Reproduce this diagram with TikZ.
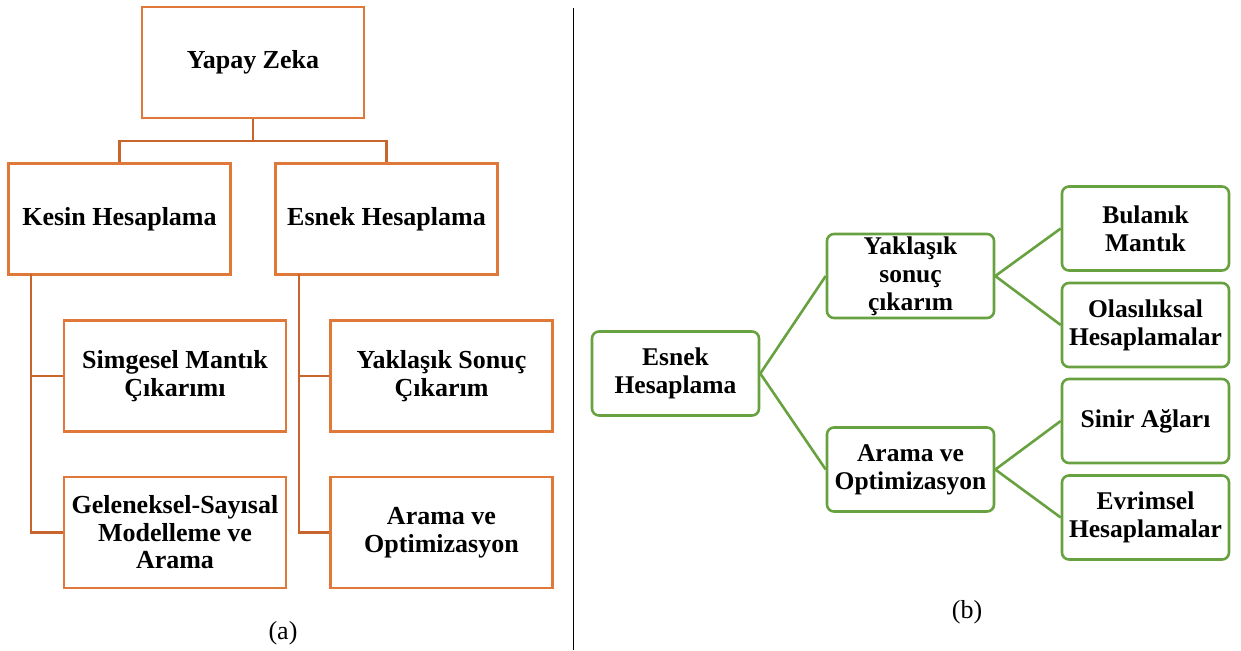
\documentclass[tikz,border=0pt]{standalone}
\usepackage{fontspec}
\setmainfont{Liberation Serif}
\usetikzlibrary{calc}
\definecolor{orng}{HTML}{E0783A}
\definecolor{orngdk}{HTML}{C8652C}
\definecolor{grn}{HTML}{68A240}
\begin{document}
\begin{tikzpicture}[x=1pt,y=-1pt,
 obox/.style={draw=orng, line width=2.5pt, minimum width=222pt, minimum height=111pt, inner sep=0pt, align=center, font=\fontsize{26}{27.5}\selectfont\bfseries},
 gbox/.style={draw=grn, line width=2.6pt, rounded corners=7pt, minimum width=167pt, minimum height=84pt, inner sep=0pt, align=center, font=\fontsize{25.5}{28}\selectfont\bfseries},
 oline/.style={draw=orngdk, line width=2.5pt},
 gline/.style={draw=grn, line width=2.6pt},
 caplbl/.style={inner sep=0pt, font=\fontsize{26}{28}\selectfont}]
\useasboundingbox (0,0) rectangle (1241,650);
% divider
\draw[line width=1pt] (573,8) -- (573,650);
% ---- panel (a)
\coordinate (yzb) at (253,141);
\coordinate (khs) at (31,274);
\coordinate (ehs) at (299,274);
\node[obox] (yz) at (253,62.5) {Yapay Zeka};
\node[obox] (kh) at (119.5,219) {Kesin Hesaplama};
\node[obox] (eh) at (386.5,219) {Esnek Hesaplama};
\node[obox] (sm) at (175,376) {Simgesel Mantık\\Çıkarımı};
\node[obox] (gs) at (175,532.5) {Geleneksel-Sayısal\\Modelleme ve\\Arama};
\node[obox] (ys) at (441.5,376) {Yaklaşık Sonuç\\Çıkarım};
\node[obox] (ao) at (441.5,532.5) {Arama ve\\Optimizasyon};
\draw[oline] (yz.south) -- (yzb) -| (kh.north);
\draw[oline] (yzb) -| (eh.north);
\draw[oline] (khs) |- (sm.west);
\draw[oline] (khs) |- (gs.west);
\draw[oline] (ehs) |- (ys.west);
\draw[oline] (ehs) |- (ao.west);
\node[caplbl] (la) at (283,633) {(a)};
% ---- panel (b)
\node[gbox] (e2) at (675.5,373.5) {Esnek\\Hesaplama};
\node[gbox] (y2) at (910.5,276) {Yaklaşık\\sonuç\\çıkarım};
\node[gbox] (a2) at (910.5,469.5) {Arama ve\\Optimizasyon};
\node[gbox] (bm) at (1145.5,228.5) {Bulanık\\Mantık};
\node[gbox] (oh) at (1145.5,325) {Olasılıksal\\Hesaplamalar};
\node[gbox] (sa) at (1145.5,421) {Sinir Ağları};
\node[gbox] (evh) at (1145.5,517.5) {Evrimsel\\Hesaplamalar};
\draw[gline] (e2.east) -- (y2.west);
\draw[gline] (e2.east) -- (a2.west);
\draw[gline] (y2.east) -- (bm.west);
\draw[gline] (y2.east) -- (oh.west);
\draw[gline] (a2.east) -- (sa.west);
\draw[gline] (a2.east) -- (evh.west);
\node[caplbl] (lb) at (967,612) {(b)};
\end{tikzpicture}
\end{document}
